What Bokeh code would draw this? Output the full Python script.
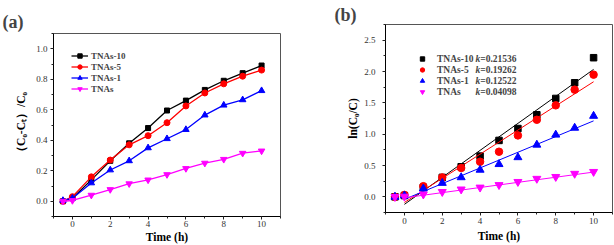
from bokeh.plotting import figure
from bokeh.layouts import row, column
from bokeh.models import Legend, LegendItem, Label, SingleIntervalTicker, Range1d, PrintfTickFormatter
from bokeh.embed import file_html
from bokeh.resources import INLINE

# ---------------- data ----------------
time_h = [-0.5, 0, 1, 2, 3, 4, 5, 6, 7, 8, 9, 10]
series_names = ["TNAs-10", "TNAs-5", "TNAs-1", "TNAs"]

# panel (a): (C0-Ct)/C0
conv_tnas10 = [0.0, 0.02, 0.14, 0.265, 0.38, 0.48, 0.595, 0.66, 0.73, 0.79, 0.84, 0.89]
conv_tnas5 = [0.0, 0.03, 0.16, 0.27, 0.37, 0.43, 0.515, 0.625, 0.71, 0.77, 0.82, 0.86]
conv_tnas1 = [0.005, 0.02, 0.12, 0.205, 0.265, 0.35, 0.41, 0.47, 0.565, 0.63, 0.665, 0.725]
conv_tnas = [0.0, 0.005, 0.04, 0.077, 0.115, 0.14, 0.175, 0.215, 0.25, 0.275, 0.315, 0.33]

# panel (b): ln(C0/C)
ln_tnas10 = [0.0, 0.02, 0.15, 0.31, 0.48, 0.65, 0.90, 1.09, 1.31, 1.57, 1.82, 2.22]
ln_tnas5 = [0.0, 0.03, 0.17, 0.31, 0.46, 0.56, 0.72, 0.98, 1.23, 1.46, 1.71, 1.95]
ln_tnas1 = [0.0, 0.02, 0.13, 0.22, 0.31, 0.43, 0.52, 0.63, 0.83, 0.99, 1.10, 1.29]
ln_tnas = [0.0, 0.005, 0.04, 0.08, 0.12, 0.15, 0.19, 0.24, 0.29, 0.32, 0.37, 0.40]

rate_k = [0.21536, 0.19262, 0.12522, 0.04098]
fit_intercept = [-0.12, -0.09, -0.04, -0.015]
fit_x = [0, 10]

conv_series = [conv_tnas10, conv_tnas5, conv_tnas1, conv_tnas]
ln_series = [ln_tnas10, ln_tnas5, ln_tnas1, ln_tnas]

# ---------------- styles ----------------
colors = ["#000000", "#FF0000", "#0000FF", "#FF00FF"]
markers = ["square", "circle", "triangle", "inverted_triangle"]
size_a = [5, 6, 6.5, 6.5]
size_b = [6.5, 7.5, 8, 8]
SERIF = "Liberation Serif"


def style_axes(p, yint):
    p.xaxis.ticker = SingleIntervalTicker(interval=2, num_minor_ticks=2)
    p.yaxis.ticker = SingleIntervalTicker(interval=yint, num_minor_ticks=2)
    p.yaxis.formatter = PrintfTickFormatter(format="%.1f")
    for ax in (p.xaxis[0], p.yaxis[0]):
        ax.axis_line_color = "#000000"
        ax.axis_line_width = 1
        ax.major_tick_in = 0
        ax.major_tick_out = 3
        ax.minor_tick_in = 0
        ax.minor_tick_out = 2
        ax.major_tick_line_color = "#222222"
        ax.minor_tick_line_color = "#222222"
        ax.major_label_text_font = SERIF
        ax.major_label_text_font_size = "9px"
        ax.major_label_text_color = "#333333"
        ax.axis_label_text_font = SERIF
        ax.axis_label_text_font_style = "bold"
        ax.axis_label_text_font_size = "11.5px"
        ax.axis_label_text_color = "#000000"
    p.xgrid.visible = False
    p.ygrid.visible = False
    p.outline_line_color = "#555555"
    p.outline_line_width = 1
    p.title.text_font = SERIF
    p.title.text_font_style = "bold"
    p.title.text_font_size = "18px"
    p.title.align = "left"


# ---------------- panel (a) ----------------
pa = figure(width=307, height=245, output_backend="svg", toolbar_location=None,
            x_range=Range1d(-1, 11), y_range=Range1d(-0.1, 1.1), title="(a)",
            min_border_left=53, min_border_right=27, min_border_top=33, min_border_bottom=29,
            background_fill_color="white", border_fill_color="white")
style_axes(pa, 0.2)
pa.title.offset = -51
pa.title.standoff = 4
pa.xaxis.axis_label = "Time (h)"
pa.yaxis.axis_label = "（C₀-Cₜ）/C₀"
pa.xaxis.major_label_standoff = 1
pa.xaxis.axis_label_standoff = 1
pa.yaxis.major_label_standoff = 3
pa.yaxis.axis_label_standoff = 6

items_a = []
for name, ys, c, m, s in zip(series_names, conv_series, colors, markers, size_a):
    ln = pa.line(time_h, ys, line_color=c, line_width=1.3)
    sc = pa.scatter(time_h, ys, marker=m, size=s, fill_color=c, line_color=c)
    items_a.append(LegendItem(label=name, renderers=[ln, sc]))

leg_a = Legend(items=items_a, location=(18, 122), padding=0, margin=0, spacing=0,
               glyph_width=17, glyph_height=11, label_height=11, label_standoff=3,
               label_text_font=SERIF, label_text_font_style="bold", label_text_font_size="9px",
               background_fill_alpha=0, border_line_alpha=0)
pa.add_layout(leg_a)

# ---------------- panel (b) ----------------
pb = figure(width=307, height=245, output_backend="svg", toolbar_location=None,
            x_range=Range1d(-1, 11), y_range=Range1d(-0.25, 2.75), title="(b)",
            min_border_left=78, min_border_right=2, min_border_top=24, min_border_bottom=33,
            background_fill_color="white", border_fill_color="white")
style_axes(pb, 0.5)
pb.title.offset = -51
pb.title.standoff = 0
pb.xaxis.axis_label = "Time (h)"
pb.yaxis.axis_label = "ln(C₀/C)"
pb.xaxis.major_label_standoff = 2
pb.xaxis.axis_label_standoff = 3
pb.yaxis.major_label_standoff = 7
pb.yaxis.axis_label_standoff = 2

items_b = []
for name, ys, c, m, s, k, b0 in zip(series_names, ln_series, colors, markers, size_b, rate_k, fit_intercept):
    fy = [b0 + k * x for x in fit_x]
    pb.line(fit_x, fy, line_color=c, line_width=1)
    sc = pb.scatter(time_h, ys, marker=m, size=s, fill_color=c, line_color=c)
    items_b.append(LegendItem(label=name, renderers=[sc]))

leg_b = Legend(items=items_b, location=(30, 115), padding=0, margin=0, spacing=0,
               glyph_width=14, glyph_height=11, label_height=11, label_standoff=8,
               label_text_font=SERIF, label_text_font_style="bold", label_text_font_size="9.5px",
               background_fill_alpha=0, border_line_alpha=0)
pb.add_layout(leg_b)

row_y = [153.5, 142.5, 131.5, 120.5]
for k, yy in zip(rate_k, row_y):
    pb.add_layout(Label(x=90, y=yy, x_units="screen", y_units="screen", text="k",
                        text_font=SERIF, text_font_style="bold italic", text_font_size="9.5px",
                        text_baseline="middle"))
    pb.add_layout(Label(x=94.8, y=yy, x_units="screen", y_units="screen", text="=%.5f" % k,
                        text_font=SERIF, text_font_style="bold", text_font_size="9.5px",
                        text_baseline="middle"))

layout = row(column(pa), column(pb), spacing=0)
open("out.html", "w").write(file_html(layout, INLINE))
